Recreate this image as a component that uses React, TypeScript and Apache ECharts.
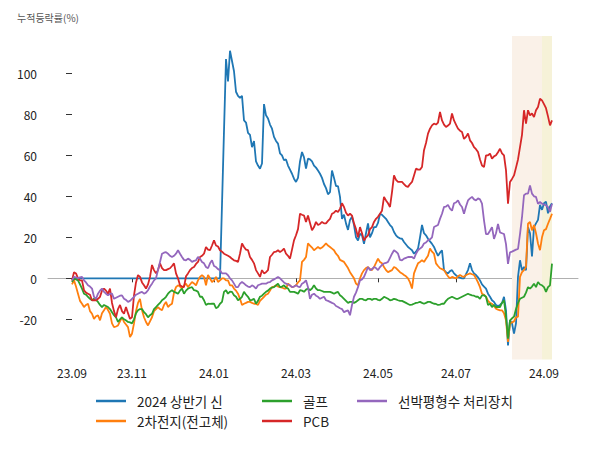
import React, { useEffect, useRef } from "react";
import * as echarts from "echarts";

const tickIdx = [0, 30, 71, 112, 153, 192, 236];
const tickLabels = ["23.09", "23.11", "24.01", "24.03", "24.05", "24.07", "24.09"];
const yTicks = [-20, 0, 20, 40, 60, 80, 100];

const seriesNames = ["2024 상반기 신", "2차전지(전고체)", "골프", "PCB", "선박평형수 처리장치"];
const seriesColors = ["#1f77b4", "#ff7f0e", "#2ca02c", "#d62728", "#9467bd"];

const peachRange = [220, 235];
const yellowRange = [235, 240];

const sinValues = [
  0, 0, 0, 0, 0, 0, 0, 0, 0, 0,
  0, 0, 0, 0, 0, 0, 0, 0, 0, 0,
  0, 0, 0, 0, 0, 0, 0, 0, 0, 0,
  0, 0, 0, 0, 0, 0, 0, 0, 0, 0,
  0, 0, 0, 0, 0, 0, 0, 0, 0, 0,
  0, 0, 0, 0, 0, 0, 0, 0, 0, 0,
  0, 0, 0, 0, 0, 0, 0, 0, 0, 0,
  0, 0, 0, 0, 0, 36, 72, 107, 96, 111,
  106, 101, 91, 89, 88, 89, 77, 76, 71, 70,
  64, 67, 57, 55, 53.5, 56, 85, 79.5, 78, 75,
  73, 69, 67, 65.7, 61, 60, 57.6, 58, 55, 53,
  51, 48.6, 47, 49, 57, 61.6, 59, 53.5, 58.4, 58,
  57, 55, 54, 52.6, 51, 49, 46, 44, 41, 42,
  52.6, 49, 45, 45, 39.7, 29, 31, 26.8, 23.6, 28.5,
  30, 26, 20, 18.5, 21.7, 21, 16.8, 22, 26.8, 20,
  22, 25, 25, 27, 31.5, 31, 30, 29, 27.5, 26,
  25, 22.6, 21, 20, 19.5, 19.3, 17.7, 16.5, 15.3, 14.5,
  13.7, 12, 13, 14.5, 20, 26, 22, 21, 19.3, 18,
  16.8, 15.3, 13, 11, 12.5, 13.7, 4, 3, 2.4, 3.5,
  4, 2.4, 1.5, 0.7, 0.3, 0, 0, 2, 4, 7.3,
  4, 2.4, 1.6, 0.5, -1, -3, -4, -5, -7.5, -9,
  -10.7, -11.5, -13, -13.5, -13, -12, -9, -15.6, -32.7, -20.5,
  -22, -27, -22, 0.7, 8.8, 3.9, 5.5, 3.9, 25, 22,
  10.7, 25, 26.8, 28.5, 35.8, 33.4, 36.6, 37.4, 31.7, 35,
  36.6,
];

const batteryValues = [
  -3, -1, -4, -7.5, -11, -12.4, -14, -13, -12.4, -16,
  -17.3, -19.8, -18.5, -18, -20.5, -17, -15.6, -14, -15.5, -17.3,
  -22, -23.8, -23.5, -23, -21, -19, -21.3, -22.5, -23.8, -28.6,
  -27, -22, -16, -12, -10, -15.6, -19, -21.3, -23, -21,
  -19, -16, -15, -14, -15, -15.6, -13, -11.5, -14, -13,
  -12.4, -7, -4.3, -3.4, -4, -5, -3.5, -2.6, -4.3, -3,
  -1.8, -2.5, -3.4, -1, 0.7, 1.6, 0.7, -3.4, 1.6, 0,
  -1.8, -1, 0.7, -1.8, -1, 0, 0, -1, -1, -3.4,
  -3.4, -5, -6, -7.5, -10, -13, -12.4, -12, -11.5, -11.5,
  -12, -12.4, -12.4, -13, -11, -10, -9, -8, -7.5, -6,
  -4.3, -4, -3.4, -4, -4.3, -4.5, -5, -5, -2.6, -3.5,
  -4.3, -4, -3.4, -2, -1, 8, 9, 10.4, 17, 16,
  15, 13.7, 14.5, 15.3, 14.5, 15, 16, 17, 16, 15.3,
  14.5, 13.7, 12, 11, 9, 8.5, 8, 6.5, 5, 3,
  1.5, 0, -2.6, -3.4, 0, 2.4, 4, 5, 5.5, 4.5,
  4, 5.5, 7.5, 9.6, 8, 7.3, 5.5, 4, 3, 3.5,
  4, 5.5, 5, 4, 3, 2.4, 1.6, 1, 0, -2,
  -5, 2.4, 5, 7.3, 8, 8.8, 8, 9.5, 11, 14.5,
  13, 12, 7.3, 6, 4.9, 4.5, 4, 2.4, 1, 0,
  0.7, 0.3, 0, 1, 1.6, 1, 0.7, 1.6, 2, 2.4,
  2, 1.6, 0, -2, -4.3, -7.5, -8, -9, -11, -12,
  -12.4, -13.5, -14.8, -15.3, -15.6, -15.6, -17, -20.5, -31, -22,
  -21.5, -21, -19, -18.7, 0.7, 3, 4, 5.5, 26.6, 27.5,
  23.4, 26, 22, 17, 13.7, 20, 23.4, 24, 26.6, 29,
  31.5,
];

const golfValues = [
  -1.8, 0, -0.5, -1, -3, -5, -7.5, -8, -9, -10,
  -10.7, -10, -10.5, -11.5, -13, -14, -13, -13.5, -14, -15,
  -16.5, -18, -19, -21.3, -20, -19, -20, -20.5, -21.3, -21.5,
  -22, -20, -17, -15.6, -15, -15, -16.5, -17.5, -19, -18,
  -17.3, -15, -14, -13, -12, -10.7, -10, -9, -7.5, -6.5,
  -5.8, -6.6, -7, -7.5, -6, -5, -7.5, -6, -5, -4.6,
  -4.3, -5.8, -6, -6.6, -9, -9, -10.7, -13, -12.4, -12.5,
  -12.4, -12.4, -14.6, -14, -12.4, -11.5, -6.6, -5.8, -7.5, -6.5,
  -6.6, -8.3, -9, -10.7, -10, -9, -6.6, -8, -9, -10.7,
  -10.5, -10, -12.4, -11, -9, -8.5, -7.5, -6.6, -6, -5,
  -4.5, -4.3, -3.5, -2.6, -4.3, -4, -3.4, -4.5, -5, -6.6,
  -6.6, -6.6, -7, -7.5, -5.8, -6, -6.6, -5.5, -5, -5.8,
  -5, -3.4, -5, -5.8, -5.8, -6.2, -6.6, -6.6, -6.6, -6.6,
  -7, -7.5, -7, -6.6, -8.3, -9, -10, -11, -12, -11.5,
  -11.5, -12, -11.5, -10.7, -10, -10, -10.5, -10.7, -10, -10,
  -10.5, -10, -10, -10.5, -10.7, -10, -9, -9.5, -10, -10.7,
  -10.5, -10, -10.3, -10.7, -11, -11, -11.5, -12, -12.5, -13,
  -12.8, -12.4, -12, -11.8, -11.5, -12, -12.4, -12, -11.5, -11.5,
  -12, -12.4, -12.5, -13, -12.8, -12.4, -12.4, -11, -10, -9.5,
  -9, -9.5, -10, -10, -9.5, -9, -8.5, -8, -7.5, -8,
  -8.3, -8.5, -9, -9, -10, -8.3, -8.3, -9, -13, -12.4,
  -14, -13, -14, -14, -14, -12, -10.7, -18.7, -29.4, -20.5,
  -19.5, -18.7, -15, -12, -10, -9.5, -9, -7, -4.3, -5,
  -4, -2.6, -4.3, -1.8, -3, -3.4, -4.3, -6.6, -4.3, -3.4,
  7.2,
];

const pcbValues = [
  -1, 3, 2.4, 0, -1, -1, -5.8, -7, -7.5, -8,
  -10.7, -10.7, -10.7, -10, -9, -6, -5, -6, -7.5, -5,
  -12, -16, -19, -15, -13, -16, -17.3, -14, -17, -19.8,
  -19, -8.3, -2, 1.6, 0.7, -2, -3.4, -5, -3, 0.7,
  6.5, 4, 2.4, 4, 7.3, 5, 4, 4, 4.5, 4.9,
  6, 7.3, 2.4, 0, -3.4, -4, -4.3, 1, 2.4, 4,
  5, 5.5, 7, 8, 10.4, 11, 12, 15.3, 14, 13.7,
  16, 18.5, 16, 15.5, 13.7, 13, 12, 11.5, 11, 10.4,
  9.5, 8.8, 8.5, 8, 12, 17, 15.3, 14, 13.7, 10.4,
  9, 7.3, 4, 2.4, 0.7, 4, 2.4, 3, 4, 10.4,
  11.5, 12.8, 13, 13.7, 12.8, 13.5, 14.5, 12, 11, 9.6,
  14, 18.5, 21, 24, 31.5, 31, 30.6, 27.5, 30.6, 27,
  23.4, 25, 27.5, 26, 26.5, 27.5, 26.8, 26.8, 28, 29,
  31.5, 32, 33, 32.3, 34, 36.6, 34.8, 32, 30.6, 31.5,
  30.6, 26.8, 24, 20, 25, 22, 18.5, 20, 21, 24,
  25, 27.5, 29, 30, 31.5, 33, 39.7, 38, 36.6, 34.8,
  42, 50.2, 48, 47, 47, 47, 46, 45, 44.6, 46,
  47, 50.2, 53.5, 53, 53, 54.3, 62.5, 66, 70.6, 73,
  74.6, 75.5, 75, 76, 81.2, 77, 75, 73.8, 74.5, 75.5,
  80.4, 77, 75, 73, 72, 71.4, 68, 69, 70.6, 67.3,
  66, 64, 63, 61.6, 58, 55, 54.3, 60, 60, 60.8,
  58.4, 59.5, 60, 61.5, 63.2, 61, 60, 52.7, 36.4, 47,
  48.5, 50.2, 54, 58, 64, 70, 82, 75.5, 82, 79.5,
  80.4, 78.7, 82, 83.6, 87.6, 86.8, 85, 83, 79, 74.6,
  77,
];

const ballastValues = [
  -1, 0.7, 0.5, 0, 0.5, 0.7, -1, -2, -3.4, -4,
  -5, -9, -10, -7.5, -6, -5, -6.6, -7.5, -8.3, -7.5,
  -7.5, -10, -9.5, -9, -8.5, -8.3, -10, -10.5, -11.5, -11,
  -10, -9, -8, -7.5, -7, -6.6, -7.5, -7, -5.8, -4,
  -2.6, -1, 0, 4, 8, 12, 12.5, 12.8, 12, 11,
  10.4, 11, 12, 13.7, 12, 10.4, 9, 8.8, 9.6, 9,
  8, 8.5, 8.8, 10.4, 9.6, 8, 7.3, 5.5, 4.9, 7.3,
  8.8, 6, 5.5, 4.5, 4, 2.4, 2.4, 2.4, 1.5, 0,
  -1, -2.6, -4.3, -4.3, -2.6, -1.8, -2.5, -3.4, -4, -4.3,
  -3.4, -4, -5, -3.4, -3, -2.6, -2.6, -2.6, -2, -1.8,
  -1, -0.5, 0, 0.7, 0, -1, -2, -2.6, -3, -3.4,
  -4.3, -4, -3.4, -4, -4.3, -2.6, -2, -1, -4.3, -10,
  -8, -7.5, -8.5, -9, -10, -9.5, -9, -10.7, -11, -11.5,
  -12, -12.4, -13.5, -14, -14.6, -15, -16.5, -16, -15.6, -18,
  -13, -9, -7, -4.3, -1, -0.5, 0.7, 3, 5.5, 4,
  4.5, 5.5, 5, 4, 5.5, 6.5, 7.3, 7.5, 8, 10,
  12, 13.7, 13, 12, 9, 8.8, 9.6, 10, 10.4, 10.4,
  10.4, 9.6, 12, 13.7, 14.5, 15.3, 17, 17.5, 18.5, 19,
  20, 25, 25.5, 26, 29, 31.5, 34.8, 35, 35.8, 34,
  33, 36.6, 37, 38, 36, 34.8, 31.5, 35, 38, 39,
  39.7, 38.5, 38, 39, 38.5, 36.4, 28.3, 21.6, 21.6, 23.2,
  25, 19.2, 22, 26.5, 22.4, 22, 21.6, 16.7, 7, 12.7,
  13, 13.5, 14, 14.3, 21.6, 29.8, 40.5, 41.3, 41.3, 45.3,
  41.3, 40, 39.7, 36.4, 37.2, 36.4, 36, 35.6, 34.8, 32.4,
  36.4,
];

const allValues = [sinValues, batteryValues, golfValues, pcbValues, ballastValues];

const FONT = '"Noto Sans CJK KR", "Noto Sans", sans-serif';

export default function App() {
  const ref = useRef<HTMLDivElement>(null);

  useEffect(() => {
    if (!ref.current) return;
    const chart = echarts.init(ref.current, undefined, { renderer: "svg" });

    const legendBase = {
      orient: "vertical",
      top: 393,
      itemWidth: 30,
      itemHeight: 2.5,
      itemGap: 4,
      icon: "rect",
      padding: 0,
      textStyle: {
        fontFamily: FONT,
        fontSize: 13.5,
        color: "#222",
        lineHeight: 16,
        padding: [0, 0, 0, 6],
      },
    };

    const lineSeries = allValues.map((vals, k) => ({
      name: seriesNames[k],
      type: "line",
      data: vals.map((v, i) => [i, v]),
      symbol: "none",
      showSymbol: false,
      lineStyle: { width: 1.8, color: seriesColors[k] },
      itemStyle: { color: seriesColors[k] },
      z: 3,
    }));

    const option = {
      animation: false,
      textStyle: { fontFamily: FONT },
      title: {
        text: "누적등락률(%)",
        left: 12,
        top: 7,
        textStyle: { fontSize: 10, fontWeight: "normal", color: "#555", fontFamily: FONT },
      },
      grid: { left: 48, right: 22, top: 36, bottom: 90.5 },
      xAxis: {
        type: "value",
        min: -12,
        max: 253,
        axisLine: { show: true, lineStyle: { color: "#b0b0b0", width: 1 } },
        axisTick: { show: true, customValues: tickIdx, length: 4, lineStyle: { color: "#333" } },
        axisLabel: {
          customValues: tickIdx,
          formatter: (v: number) => {
            const j = tickIdx.indexOf(Math.round(v));
            return j >= 0 ? tickLabels[j] : "";
          },
          fontSize: 12,
          color: "#222",
          margin: 7,
          fontFamily: FONT,
        },
        splitLine: { show: false },
      },
      yAxis: {
        type: "value",
        min: -39.6,
        max: 118.2,
        axisLine: { show: false },
        axisTick: { show: true, customValues: yTicks, length: 6, lineStyle: { color: "#333" } },
        axisLabel: { customValues: yTicks, fontSize: 12, color: "#222", margin: 11, fontFamily: FONT },
        splitLine: { show: false },
      },
      legend: [
        { ...legendBase, left: 96, data: [seriesNames[0], seriesNames[1]] },
        { ...legendBase, left: 262, data: [seriesNames[2], seriesNames[3]] },
        { ...legendBase, left: 357, data: [seriesNames[4]] },
      ],
      series: [
        {
          name: "shade",
          type: "line",
          data: [[0, 0]],
          symbol: "none",
          lineStyle: { opacity: 0 },
          silent: true,
          z: 1,
          markArea: {
            silent: true,
            data: [
              [{ xAxis: peachRange[0], itemStyle: { color: "#faf1e8" } }, { xAxis: peachRange[1] }],
              [{ xAxis: yellowRange[0], itemStyle: { color: "#f6f2d8" } }, { xAxis: yellowRange[1] }],
            ],
          },
        },
        ...lineSeries,
      ],
    };

    chart.setOption(option as any);
    return () => chart.dispose();
  }, []);

  return (
    <div
      ref={ref}
      style={{ position: "fixed", left: 0, top: 0, width: 600, height: 450, background: "#fff" }}
    />
  );
}
